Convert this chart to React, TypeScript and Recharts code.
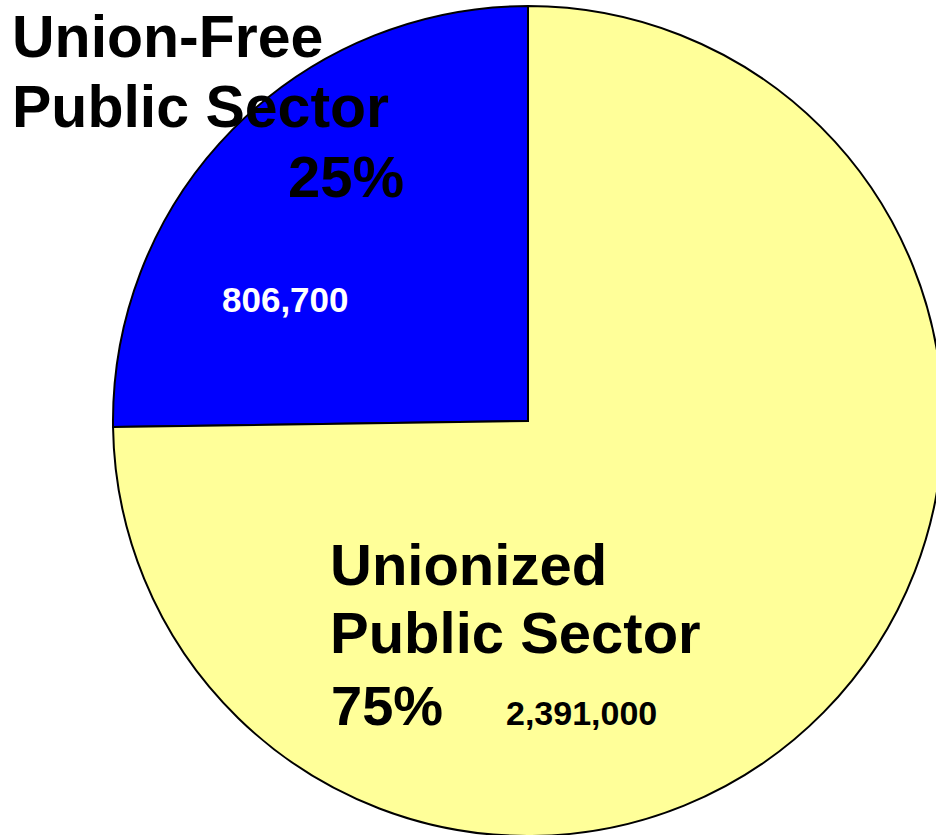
import { PieChart, Pie, Cell } from 'recharts';

const sectors = ['Union-Free Public Sector', 'Unionized Public Sector'];
const workers = [806700, 2391000];
const shares = ['25%', '75%'];
const valueLabels = ['806,700', '2,391,000'];
const colors = ['#0000FF', '#FFFF99'];

const data = sectors.map((name, i) => ({ name, value: workers[i] }));

const font = '"Liberation Sans", Arial, sans-serif';

// Text block for each slice, placed relative to the pie centre
function SliceLabel(props: any) {
  const { cx, cy, index } = props;
  if (index === 0) {
    return (
      <g fontFamily={font} fontWeight="bold">
        <text x={cx - 516} y={cy - 364} fontSize={59} fill="#000">Union-Free</text>
        <text x={cx - 516} y={cy - 294} fontSize={59} fill="#000">Public Sector</text>
        <text x={cx - 240} y={cy - 224} fontSize={58} fill="#000">{shares[0]}</text>
        <text x={cx - 306} y={cy - 109} fontSize={35} fill="#fff">{valueLabels[0]}</text>
      </g>
    );
  }
  return (
    <g fontFamily={font} fontWeight="bold">
      <text x={cx - 198} y={cy + 164} fontSize={58} fill="#000">Unionized</text>
      <text x={cx - 198} y={cy + 232} fontSize={58} fill="#000">Public Sector</text>
      <text x={cx - 197} y={cy + 304} fontSize={56} fill="#000">{shares[1]}</text>
      <text x={cx - 22} y={cy + 304} fontSize={34} fill="#000">{valueLabels[1]}</text>
    </g>
  );
}

export default function App() {
  return (
    <div style={{ position: 'absolute', left: 0, top: 0, background: '#fff' }}>
      <PieChart width={936} height={835} margin={{ top: 0, right: 0, bottom: 0, left: 0 }}>
        <Pie
          data={data}
          dataKey="value"
          nameKey="name"
          cx={528}
          cy={421}
          outerRadius={415}
          startAngle={90}
          endAngle={450}
          label={SliceLabel}
          labelLine={false}
          isAnimationActive={false}
        >
          {data.map((d, i) => (
            <Cell key={d.name} fill={colors[i]} stroke="#000" strokeWidth={2} />
          ))}
        </Pie>
      </PieChart>
    </div>
  );
}
